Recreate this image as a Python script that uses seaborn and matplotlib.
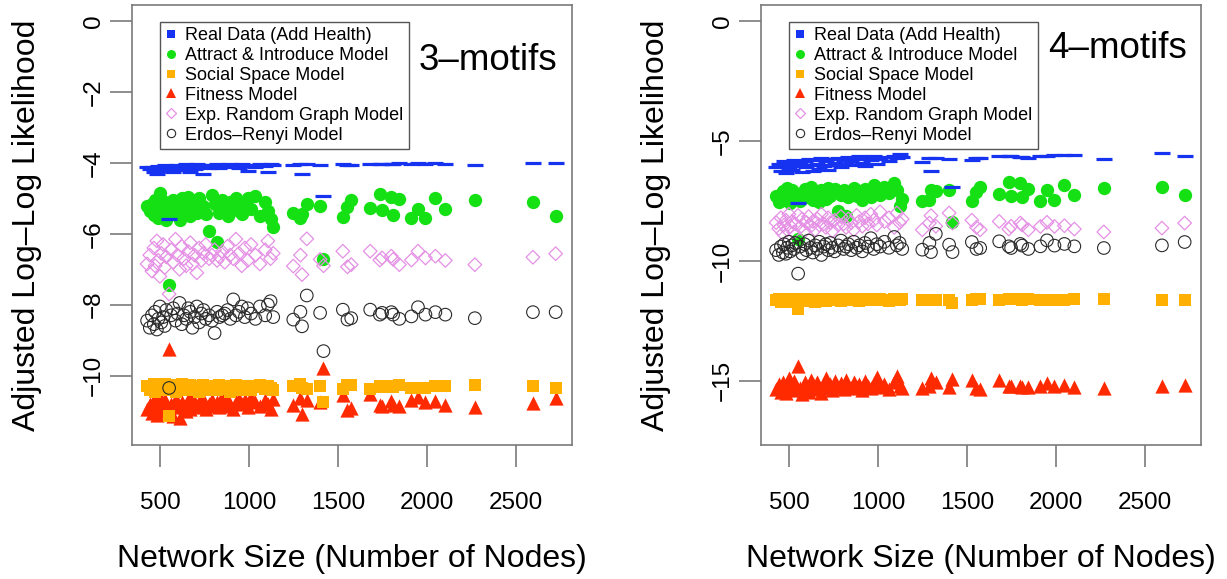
import numpy as np
import pandas as pd
import matplotlib
matplotlib.use("Agg")
import matplotlib.pyplot as plt
from matplotlib.lines import Line2D
import seaborn as sns

# Network sizes (number of nodes) for each Add Health community
network_size = [
    425, 440, 452, 463, 470, 480, 488, 497, 505, 515, 524, 533, 549, 560, 572, 585,
    596, 608, 620, 632, 645, 657, 668, 680, 693, 705, 718, 730, 742, 755, 774, 790,
    805, 819, 832, 848, 862, 878, 893, 910, 925, 942, 958, 975, 992, 1010, 1035, 1060,
    1090, 1105, 1120, 1135,
    1248, 1288, 1297, 1324, 1399, 1418, 1527, 1553, 1574, 1681, 1735, 1748, 1800, 1810,
    1845, 1913, 1950, 1992, 2048, 2104, 2270, 2597, 2725,
]

# ---- 3-motif adjusted log-log likelihoods ----
real_3 = [
    -4.12, -4.18, -4.10, -4.25, -4.15, -4.30, -4.08, -4.20, -4.14, -4.22, -4.06, -4.18, -5.59, -4.10, -4.26, -4.12,
    -4.05, -4.19, -4.08, -4.14, -4.03, -4.11, -4.24, -4.07, -4.16, -4.04, -4.12, -4.09, -4.32, -4.06, -4.15, -4.05,
    -4.10, -4.03, -4.13, -4.07, -4.05, -4.12, -4.04, -4.09, -4.06, -4.14, -4.03, -4.08, -4.22, -4.05, -4.10, -4.04,
    -4.08, -4.25, -4.04, -4.06,
    -4.05, -4.04, -4.32, -4.04, -4.05, -4.94, -4.04, -4.05, -4.05, -4.04, -4.02, -4.02, -4.03, -4.02,
    -4.01, -4.02, -4.01, -4.02, -4.01, -4.02, -4.06, -4.00, -4.00,
]
attract_3 = [
    -5.20, -5.35, -5.15, -5.48, -5.05, -5.30, -5.55, -4.85, -5.25, -5.40, -5.10, -5.60, -7.43, -5.30, -5.05, -5.45,
    -5.20, -5.60, -5.00, -5.35, -5.15, -4.95, -5.50, -5.25, -5.10, -5.40, -5.00, -5.30, -5.20, -5.45, -5.92, -4.90,
    -5.15, -6.23, -5.40, -5.05, -5.30, -5.50, -5.10, -5.25, -5.00, -5.35, -5.45, -5.15, -4.98, -5.30, -4.92, -5.50,
    -5.10, -5.35, -5.58, -5.82,
    -5.40, -5.55, -5.45, -5.15, -5.22, -6.72, -5.52, -5.24, -5.05, -5.26, -4.88, -5.33, -4.95, -5.46,
    -5.03, -5.55, -5.31, -5.55, -4.98, -5.31, -5.05, -5.10, -5.50,
]
social_3 = [
    -10.30, -10.40, -10.35, -10.25, -10.45, -10.30, -10.38, -10.28, -10.42, -10.33, -10.25, -10.40, -11.15, -10.30, -10.35, -10.45,
    -10.28, -10.38, -10.25, -10.40, -10.32, -10.36, -10.28, -10.42, -10.30, -10.38, -10.45, -10.33, -10.28, -10.36, -10.40, -10.30,
    -10.35, -10.42, -10.28, -10.33, -10.38, -10.30, -10.45, -10.35, -10.28, -10.40, -10.32, -10.36, -10.30, -10.42, -10.33, -10.28,
    -10.38, -10.30, -10.35, -10.40,
    -10.30, -10.25, -10.35, -10.37, -10.30, -10.74, -10.37, -10.26, -10.26, -10.37, -10.30, -10.32, -10.30, -10.31,
    -10.28, -10.36, -10.36, -10.36, -10.30, -10.30, -10.28, -10.30, -10.36,
]
fitness_3 = [
    -10.95, -10.80, -11.05, -10.70, -10.90, -11.10, -10.75, -10.60, -10.85, -11.00, -10.70, -10.95, -9.25, -10.80, -11.15, -10.65,
    -10.90, -11.20, -10.75, -10.85, -11.00, -10.70, -10.95, -10.60, -10.80, -10.90, -10.75, -10.85, -10.65, -10.95, -10.80, -10.70,
    -10.85, -10.75, -10.90, -10.60, -10.80, -10.70, -10.85, -10.95, -10.75, -10.65, -10.80, -10.70, -10.90, -10.60, -10.75, -10.85,
    -10.70, -10.80, -10.95, -10.65,
    -10.84, -10.63, -11.08, -10.70, -10.75, -9.78, -10.55, -10.96, -10.91, -10.52, -10.82, -10.85, -10.72, -10.82,
    -10.87, -10.68, -10.60, -10.74, -10.72, -10.82, -10.88, -10.77, -10.63,
]
ergm_3 = [
    -6.85, -6.60, -7.05, -6.40, -6.90, -6.20, -6.75, -7.20, -6.55, -6.30, -6.95, -6.65, -7.70, -6.45, -6.80, -6.15,
    -6.60, -7.00, -6.35, -6.70, -6.90, -6.50, -6.25, -6.85, -6.60, -7.10, -6.40, -6.75, -6.55, -6.30, -6.70, -6.60,
    -6.45, -6.75, -6.65, -6.50, -6.80, -6.35, -6.60, -6.70, -6.15, -6.55, -6.90, -6.40, -6.75, -6.30, -6.60, -6.85,
    -6.45, -6.20, -6.70, -6.55,
    -6.91, -6.60, -7.15, -6.14, -6.72, -6.90, -6.49, -6.93, -6.87, -6.49, -6.74, -6.68, -6.63, -6.72,
    -6.87, -6.74, -6.49, -6.68, -6.63, -6.75, -6.87, -6.66, -6.56,
]
erdos_3 = [
    -8.45, -8.65, -8.30, -8.55, -8.20, -8.70, -8.40, -8.05, -8.50, -8.35, -8.60, -8.15, -10.35, -8.30, -8.10, -8.45,
    -8.25, -7.95, -8.55, -8.30, -8.40, -8.10, -8.20, -8.65, -8.35, -8.05, -8.50, -8.25, -8.15, -8.40, -8.30, -8.45,
    -8.80, -8.20, -8.35, -8.30, -8.25, -8.15, -8.40, -7.85, -8.30, -8.20, -8.05, -8.35, -8.10, -8.25, -8.40, -8.05,
    -8.30, -8.00, -7.90, -8.35,
    -8.42, -8.20, -8.61, -7.74, -8.23, -9.31, -8.14, -8.42, -8.38, -8.14, -8.28, -8.23, -8.21, -8.28,
    -8.40, -8.33, -8.07, -8.28, -8.21, -8.28, -8.38, -8.21, -8.21,
]

# ---- 4-motif adjusted log-log likelihoods ----
real_4 = [
    -6.10, -5.95, -6.25, -6.05, -5.85, -6.35, -6.00, -6.15, -5.90, -6.20, -5.80, -6.05, -7.58, -5.95, -6.30, -5.85,
    -6.10, -5.75, -6.00, -6.25, -5.80, -5.95, -6.15, -5.70, -6.05, -5.85, -6.20, -5.75, -6.00, -5.90, -5.70, -6.10,
    -5.80, -5.95, -5.65, -5.85, -6.00, -5.75, -5.60, -5.90, -6.05, -5.70, -5.80, -5.60, -5.95, -5.75, -5.65, -5.85,
    -5.60, -5.70, -5.55, -5.65,
    -5.88, -5.70, -6.26, -5.72, -5.75, -6.90, -5.78, -5.72, -5.70, -5.60, -5.60, -5.62, -5.65, -5.68,
    -5.70, -5.62, -5.60, -5.58, -5.56, -5.56, -5.75, -5.49, -5.60,
]
attract_4 = [
    -7.30, -7.55, -7.20, -7.10, -7.45, -7.35, -6.95, -7.25, -7.60, -7.05, -7.40, -7.15, -9.08, -7.50, -7.25, -7.00,
    -7.35, -7.20, -6.90, -7.45, -7.10, -7.30, -7.55, -7.05, -7.20, -7.40, -6.95, -7.30, -7.15, -7.00, -7.93, -7.25,
    -7.05, -8.14, -7.35, -7.15, -6.95, -7.30, -7.10, -7.45, -7.00, -7.20, -7.35, -6.85, -7.10, -7.25, -6.90, -7.15,
    -6.75, -7.05, -7.70, -7.40,
    -7.51, -7.44, -7.05, -7.10, -7.05, -8.39, -7.51, -7.14, -6.93, -7.19, -6.72, -7.28, -6.75, -7.33,
    -7.00, -7.48, -7.05, -7.44, -6.82, -7.26, -6.96, -6.93, -7.26,
]
social_4 = [
    -11.65, -11.60, -11.70, -11.62, -11.58, -11.68, -11.64, -11.60, -11.72, -11.63, -11.58, -11.66, -12.00, -11.62, -11.60, -11.68,
    -11.63, -11.58, -11.65, -11.60, -11.70, -11.62, -11.58, -11.64, -11.60, -11.66, -11.62, -11.58, -11.65, -11.60, -11.63, -11.68,
    -11.60, -11.62, -11.58, -11.65, -11.62, -11.60, -11.66, -11.62, -11.58, -11.64, -11.60, -11.65, -11.62, -11.60, -11.63, -11.66,
    -11.60, -11.62, -11.65, -11.60,
    -11.62, -11.62, -11.65, -11.62, -11.62, -11.76, -11.65, -11.59, -11.59, -11.65, -11.59, -11.60, -11.59, -11.62,
    -11.59, -11.65, -11.65, -11.62, -11.62, -11.59, -11.59, -11.62, -11.65,
]
fitness_4 = [
    -15.35, -15.15, -15.45, -15.05, -15.30, -15.50, -15.10, -14.90, -15.25, -15.40, -15.00, -15.20, -14.37, -15.30, -15.55, -15.05,
    -15.25, -15.45, -14.95, -15.15, -15.35, -15.05, -15.25, -15.50, -15.10, -14.90, -15.30, -15.15, -15.40, -15.00, -15.25, -15.10,
    -15.35, -14.95, -15.20, -15.30, -15.05, -15.25, -15.15, -15.40, -15.00, -15.20, -15.30, -15.10, -14.85, -15.25, -15.15, -15.35,
    -15.05, -14.80, -15.20, -15.30,
    -15.30, -15.23, -14.89, -15.05, -15.26, -14.93, -14.96, -15.30, -15.34, -14.96, -15.23, -15.20, -15.23, -15.26,
    -15.26, -15.21, -15.10, -15.23, -15.16, -15.26, -15.30, -15.23, -15.16,
]
ergm_4 = [
    -8.40, -8.65, -8.20, -8.85, -8.50, -8.30, -8.70, -8.05, -8.55, -8.35, -8.80, -8.45, -8.10, -8.60, -8.25, -8.75,
    -8.40, -8.15, -8.55, -8.35, -8.70, -8.25, -8.50, -8.05, -8.45, -8.60, -8.20, -8.40, -8.75, -8.30, -8.50, -8.15,
    -8.45, -8.60, -8.25, -8.40, -8.70, -8.10, -8.35, -8.55, -8.20, -8.45, -8.05, -8.30, -8.50, -7.95, -8.35, -8.20,
    -8.60, -8.00, -8.40, -8.25,
    -8.70, -8.42, -8.11, -8.55, -8.00, -8.42, -8.30, -8.60, -8.70, -8.35, -8.67, -8.55, -8.42, -8.50,
    -8.70, -8.56, -8.39, -8.56, -8.53, -8.67, -8.79, -8.63, -8.42,
]
erdos_4 = [
    -9.55, -9.75, -9.40, -9.65, -9.30, -9.70, -9.45, -9.20, -9.60, -9.35, -9.50, -9.25, -10.53, -9.40, -9.70, -9.30,
    -9.55, -9.15, -9.45, -9.65, -9.35, -9.50, -9.20, -9.75, -9.40, -9.30, -9.55, -9.25, -9.45, -9.60, -9.35, -9.15,
    -9.50, -9.40, -9.30, -9.55, -9.20, -9.45, -9.35, -9.60, -9.25, -9.40, -9.05, -9.50, -9.30, -9.40, -9.20, -9.45,
    -9.00, -9.35, -9.25, -9.50,
    -9.53, -9.25, -9.63, -8.87, -9.32, -9.63, -9.21, -9.50, -9.46, -9.18, -9.39, -9.46, -9.29, -9.36,
    -9.50, -9.39, -9.14, -9.36, -9.29, -9.39, -9.46, -9.35, -9.21,
]

series_labels = [
    "Real Data (Add Health)",
    "Attract & Introduce Model",
    "Social Space Model",
    "Fitness Model",
    "Exp. Random Graph Model",
    "Erdos\u2013Renyi Model",
]

df = pd.DataFrame({
    "size": network_size,
    "real_3": real_3, "attract_3": attract_3, "social_3": social_3,
    "fitness_3": fitness_3, "ergm_3": ergm_3, "erdos_3": erdos_3,
    "real_4": real_4, "attract_4": attract_4, "social_4": social_4,
    "fitness_4": fitness_4, "ergm_4": ergm_4, "erdos_4": erdos_4,
})

BLUE = "#1733F2"
GREEN = "#14E014"
ORANGE = "#FFB000"
RED = "#FF2A00"
PINK = "#E590E5"
BLACK = "#2A2A2A"
FRAME = "#7A7A7A"

sns.set_theme(style="white")
plt.rcParams["font.family"] = ["Liberation Sans", "DejaVu Sans"]
plt.rcParams["axes.unicode_minus"] = True
plt.rcParams["text.color"] = "black"
plt.rcParams["axes.labelcolor"] = "black"

W, H = 1227, 579
fig = plt.figure(figsize=(W / 100, H / 100), dpi=100)
ax_left = fig.add_axes([132 / W, 1 - 445 / H, 440 / W, 440 / H])
ax_right = fig.add_axes([761 / W, 1 - 445 / H, 440 / W, 440 / H])


def draw_panel(ax, suffix):
    # drawing order: fitness, social space, attract & introduce, real data, ERGM, Erdos-Renyi
    sns.scatterplot(data=df, x="size", y=f"fitness_{suffix}", ax=ax, marker="^",
                    s=105, color=RED, linewidth=0, legend=False)
    sns.scatterplot(data=df, x="size", y=f"social_{suffix}", ax=ax, marker="s",
                    s=72, color=ORANGE, linewidth=0, legend=False)
    sns.scatterplot(data=df, x="size", y=f"attract_{suffix}", ax=ax, marker="o",
                    s=92, color=GREEN, linewidth=0, legend=False)
    sns.scatterplot(data=df, x="size", y=f"real_{suffix}", ax=ax, marker="_",
                    s=125, color=BLUE, linewidth=2.3, legend=False)
    sns.scatterplot(data=df, x="size", y=f"ergm_{suffix}", ax=ax, marker="D",
                    s=48, color=PINK, facecolor="none", edgecolor=PINK,
                    linewidth=0.9, legend=False)
    sns.scatterplot(data=df, x="size", y=f"erdos_{suffix}", ax=ax, marker="o",
                    s=82, color=BLACK, facecolor="none", edgecolor=BLACK,
                    linewidth=0.8, legend=False)

    ax.set_xlim(340, 2817)
    ax.set_xticks([500, 1000, 1500, 2000, 2500])
    for side in ("left", "right", "top", "bottom"):
        ax.spines[side].set_visible(True)
        ax.spines[side].set_color(FRAME)
        ax.spines[side].set_linewidth(1.2)
    ax.tick_params(axis="both", direction="out", length=15.5, width=1.2,
                   color=FRAME, labelsize=17.5, labelcolor="black")
    ax.tick_params(axis="x", pad=18, bottom=True)
    ax.tick_params(axis="y", pad=4, left=True, labelrotation=90)
    for lab in ax.get_yticklabels():
        lab.set_verticalalignment("center")
    ax.set_xlabel("Network Size (Number of Nodes)", fontsize=23, color="black")
    ax.set_ylabel("Adjusted Log\u2013Log Likelihood", fontsize=23, color="black")
    ax.xaxis.set_label_coords(0.5, -0.225)
    ax.yaxis.set_label_coords(-0.205, 0.5)
    ax.grid(False)

    handles = [
        Line2D([], [], linestyle="none", marker="s", markersize=5.5, color=BLUE, markeredgewidth=0),
        Line2D([], [], linestyle="none", marker="o", markersize=6.5, color=GREEN, markeredgewidth=0),
        Line2D([], [], linestyle="none", marker="s", markersize=5.5, color=ORANGE, markeredgewidth=0),
        Line2D([], [], linestyle="none", marker="^", markersize=6.5, color=RED, markeredgewidth=0),
        Line2D([], [], linestyle="none", marker="D", markersize=5, markerfacecolor="none",
               markeredgecolor=PINK, markeredgewidth=0.9),
        Line2D([], [], linestyle="none", marker="o", markersize=6, markerfacecolor="none",
               markeredgecolor=BLACK, markeredgewidth=0.8),
    ]
    leg = ax.legend(handles, series_labels, loc="upper left",
                    bbox_to_anchor=(0.0636, 0.962), borderaxespad=0,
                    frameon=True, fancybox=False, framealpha=1,
                    edgecolor="#555555", fontsize=13, borderpad=0.3,
                    handlelength=0.6, handletextpad=0.5, labelspacing=0.16)
    leg.get_frame().set_linewidth(1.0)
    for txt in leg.get_texts():
        txt.set_color("black")


draw_panel(ax_left, "3")
ax_left.set_ylim(-11.96, 0.46)
ax_left.set_yticks([-10, -8, -6, -4, -2, 0])
ax_left.text(0.966, 0.875, "3\u2013motifs", transform=ax_left.transAxes,
             ha="right", va="center", fontsize=26.5, color="black")

draw_panel(ax_right, "4")
ax_right.set_ylim(-17.68, 0.68)
ax_right.set_yticks([-15, -10, -5, 0])
ax_right.text(0.968, 0.9, "4\u2013motifs", transform=ax_right.transAxes,
              ha="right", va="center", fontsize=26.5, color="black")

fig.savefig("out.png", dpi=100)
